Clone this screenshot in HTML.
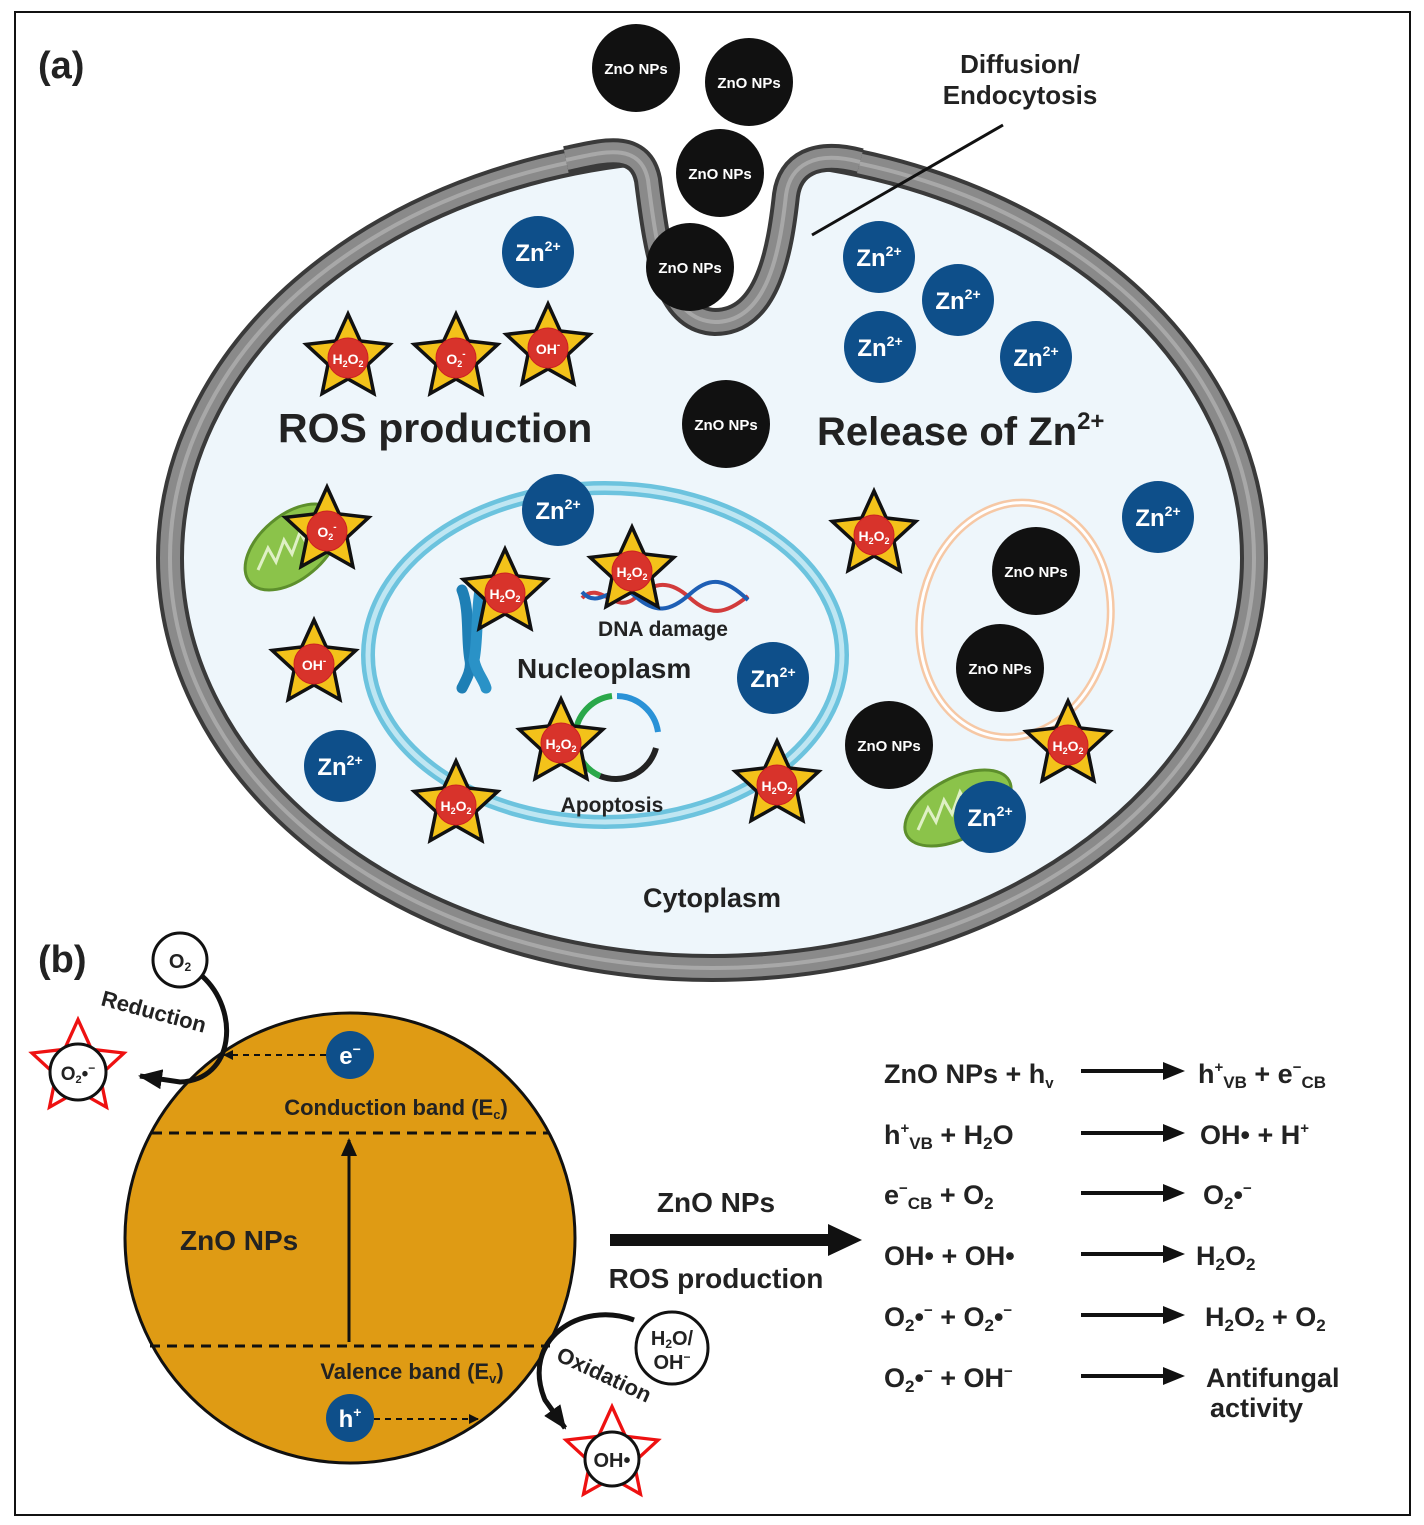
<!DOCTYPE html>
<html><head><meta charset="utf-8"><style>
html,body{margin:0;padding:0;background:#fff}
svg{display:block}
text{font-family:"Liberation Sans",sans-serif}
</style></head><body>
<svg width="1424" height="1525" viewBox="0 0 1424 1525" xmlns="http://www.w3.org/2000/svg">
<defs>
<path id="st" d="M0,-44 L12.3,-17 L41.8,-13.6 L20,6.5 L25.9,35.6 L0,21 L-25.9,35.6 L-20,6.5 L-41.8,-13.6 L-12.3,-17 Z"/>
<path id="u" d="M566,160 C600,153 640,140 648,180 C658,260 668,320 715,322 C768,322 780,250 786,195 C790,165 815,150 860,162"/>
<g id="ys"><use href="#st" fill="#f3c21a" stroke="#111" stroke-width="3.5"/><circle r="20" fill="#d8332b" stroke="#c22" stroke-width="1"/></g>
<marker id="ah" markerWidth="10" markerHeight="10" refX="9" refY="5" orient="auto" markerUnits="userSpaceOnUse"><path d="M0,0 L10,5 L0,10 Z" fill="#111"/></marker>
<marker id="ahb" markerWidth="24" markerHeight="20" refX="22" refY="10" orient="auto" markerUnits="userSpaceOnUse"><path d="M0,0 L24,10 L0,20 Z" fill="#111"/></marker>
<marker id="ahm" markerWidth="18" markerHeight="16" refX="16" refY="8" orient="auto" markerUnits="userSpaceOnUse"><path d="M0,0 L18,8 L0,16 Z" fill="#111"/></marker>
</defs>
<rect x="15" y="12" width="1395" height="1503" fill="#fff" stroke="#111" stroke-width="2"/>

<!-- cell -->
<ellipse cx="712" cy="558" rx="542" ry="410" fill="#eef6fb"/>
<ellipse cx="712" cy="558" rx="542" ry="410" fill="none" stroke="#3a3a3a" stroke-width="28"/>
<ellipse cx="712" cy="558" rx="542" ry="410" fill="none" stroke="#8a8a8a" stroke-width="20"/>
<ellipse cx="712" cy="558" rx="542" ry="410" fill="none" stroke="#a8a8a8" stroke-width="4"/>
<!-- invagination cut -->
<path d="M598,100 L598,156 C625,150 640,145 648,180 C658,260 668,320 715,322 C768,322 780,250 786,195 C790,165 810,154 838,158 L838,100 Z" fill="#fff"/>
<use href="#u" fill="none" stroke="#3a3a3a" stroke-width="28"/>
<use href="#u" fill="none" stroke="#8a8a8a" stroke-width="20"/>
<use href="#u" fill="none" stroke="#a8a8a8" stroke-width="4"/>

<!-- nucleus -->
<ellipse cx="605" cy="655" rx="237" ry="167" fill="none" stroke="#6cc3de" stroke-width="14"/>
<ellipse cx="605" cy="655" rx="237" ry="167" fill="none" stroke="#bfe6f2" stroke-width="5"/>
<!-- vesicle -->
<ellipse cx="1015" cy="620" rx="95" ry="118" transform="rotate(10 1015 620)" fill="none" stroke="#f6c8a5" stroke-width="8"/>
<ellipse cx="1015" cy="620" rx="95" ry="118" transform="rotate(10 1015 620)" fill="none" stroke="#fff" stroke-width="3"/>

<!-- mitochondria -->
<ellipse cx="292" cy="547" rx="55" ry="32" transform="rotate(-40 292 547)" fill="#8bc34a" stroke="#5d8f2c" stroke-width="3"/>
<path d="M258,570 l10,-22 l8,14 l8,-22 l8,14 l8,-22 l8,14" fill="none" stroke="#dff0c5" stroke-width="3"/>
<ellipse cx="958" cy="808" rx="58" ry="30" transform="rotate(-28 958 808)" fill="#8bc34a" stroke="#5d8f2c" stroke-width="3"/>
<path d="M918,830 l10,-22 l8,14 l8,-22 l8,14 l8,-22 l8,14" fill="none" stroke="#dff0c5" stroke-width="3"/>

<!-- chromosome -->
<path d="M462,590 C470,610 466,640 470,660 C472,670 466,680 462,688" fill="none" stroke="#1e7fb5" stroke-width="11" stroke-linecap="round"/>
<path d="M480,590 C476,615 478,640 474,660 C476,672 484,680 486,688" fill="none" stroke="#2a92c7" stroke-width="11" stroke-linecap="round"/>
<!-- DNA -->
<path d="M582,598 C600,580 615,615 635,598 S670,580 690,598 S725,615 748,596" fill="none" stroke="#d23b3b" stroke-width="4"/>
<path d="M582,592 C600,612 615,578 635,596 S670,612 690,594 S725,578 748,600" fill="none" stroke="#1e5fb5" stroke-width="4"/>
<!-- apoptosis ring -->
<path d="M617,696 A42,42 0 0 1 658,732" fill="none" stroke="#2a92d7" stroke-width="6"/>
<path d="M656,748 A42,42 0 0 1 600,776" fill="none" stroke="#222" stroke-width="6"/>
<path d="M600,776 A42,42 0 0 1 612,696" fill="none" stroke="#2aa84a" stroke-width="6"/>

<!-- Black NPs -->
<g fill="#111"><circle cx="636" cy="68" r="44"/><circle cx="749" cy="82" r="44"/><circle cx="720" cy="173" r="44"/><circle cx="690" cy="267" r="44"/><circle cx="726" cy="424" r="44"/><circle cx="1036" cy="571" r="44"/><circle cx="1000" cy="668" r="44"/><circle cx="889" cy="745" r="44"/></g>
<g fill="#fff" font-size="15" font-weight="bold" text-anchor="middle">
<text x="636" y="74">ZnO NPs</text><text x="749" y="88">ZnO NPs</text><text x="720" y="179">ZnO NPs</text><text x="690" y="273">ZnO NPs</text><text x="726" y="430">ZnO NPs</text><text x="1036" y="577">ZnO NPs</text><text x="1000" y="674">ZnO NPs</text><text x="889" y="751">ZnO NPs</text></g>

<!-- Zn2+ -->
<g fill="#0e4f8a"><circle cx="538" cy="252" r="36"/><circle cx="879" cy="257" r="36"/><circle cx="958" cy="300" r="36"/><circle cx="880" cy="347" r="36"/><circle cx="1036" cy="357" r="36"/><circle cx="558" cy="510" r="36"/><circle cx="1158" cy="517" r="36"/><circle cx="773" cy="678" r="36"/><circle cx="340" cy="766" r="36"/><circle cx="990" cy="817" r="36"/></g>
<g fill="#fff" font-size="24" font-weight="bold" text-anchor="middle">
<text x="538" y="261">Zn<tspan font-size="14" dy="-10">2+</tspan></text>
<text x="879" y="266">Zn<tspan font-size="14" dy="-10">2+</tspan></text>
<text x="958" y="309">Zn<tspan font-size="14" dy="-10">2+</tspan></text>
<text x="880" y="356">Zn<tspan font-size="14" dy="-10">2+</tspan></text>
<text x="1036" y="366">Zn<tspan font-size="14" dy="-10">2+</tspan></text>
<text x="558" y="519">Zn<tspan font-size="14" dy="-10">2+</tspan></text>
<text x="1158" y="526">Zn<tspan font-size="14" dy="-10">2+</tspan></text>
<text x="773" y="687">Zn<tspan font-size="14" dy="-10">2+</tspan></text>
<text x="340" y="775">Zn<tspan font-size="14" dy="-10">2+</tspan></text>
<text x="990" y="826">Zn<tspan font-size="14" dy="-10">2+</tspan></text></g>

<!-- stars -->
<use href="#ys" x="348" y="358"/><use href="#ys" x="456" y="358"/><use href="#ys" x="548" y="348"/>
<use href="#ys" x="327" y="531"/><use href="#ys" x="314" y="664"/><use href="#ys" x="505" y="593"/>
<use href="#ys" x="632" y="571"/><use href="#ys" x="874" y="535"/><use href="#ys" x="561" y="743"/>
<use href="#ys" x="456" y="805"/><use href="#ys" x="777" y="785"/><use href="#ys" x="1068" y="745"/>
<g fill="#fff" font-size="14" font-weight="bold" text-anchor="middle">
<text x="348" y="364">H<tspan font-size="9" dy="3">2</tspan><tspan dy="-3">O</tspan><tspan font-size="9" dy="3">2</tspan></text>
<text x="456" y="364">O<tspan font-size="9" dy="3">2</tspan><tspan font-size="10" dy="-10">-</tspan></text>
<text x="548" y="354">OH<tspan font-size="10" dy="-6">-</tspan></text>
<text x="327" y="537">O<tspan font-size="9" dy="3">2</tspan><tspan font-size="10" dy="-10">-</tspan></text>
<text x="314" y="670">OH<tspan font-size="10" dy="-6">-</tspan></text>
<text x="505" y="599">H<tspan font-size="9" dy="3">2</tspan><tspan dy="-3">O</tspan><tspan font-size="9" dy="3">2</tspan></text>
<text x="632" y="577">H<tspan font-size="9" dy="3">2</tspan><tspan dy="-3">O</tspan><tspan font-size="9" dy="3">2</tspan></text>
<text x="874" y="541">H<tspan font-size="9" dy="3">2</tspan><tspan dy="-3">O</tspan><tspan font-size="9" dy="3">2</tspan></text>
<text x="561" y="749">H<tspan font-size="9" dy="3">2</tspan><tspan dy="-3">O</tspan><tspan font-size="9" dy="3">2</tspan></text>
<text x="456" y="811">H<tspan font-size="9" dy="3">2</tspan><tspan dy="-3">O</tspan><tspan font-size="9" dy="3">2</tspan></text>
<text x="777" y="791">H<tspan font-size="9" dy="3">2</tspan><tspan dy="-3">O</tspan><tspan font-size="9" dy="3">2</tspan></text>
<text x="1068" y="751">H<tspan font-size="9" dy="3">2</tspan><tspan dy="-3">O</tspan><tspan font-size="9" dy="3">2</tspan></text></g>

<!-- labels a -->
<text x="38" y="78" font-size="38" font-weight="bold" fill="#222">(a)</text>
<g fill="#222" font-weight="bold">
<text x="278" y="442" font-size="41">ROS production</text>
<text x="817" y="445" font-size="40">Release of Zn<tspan font-size="24" dy="-16">2+</tspan></text>
<text x="517" y="678" font-size="28">Nucleoplasm</text>
<text x="663" y="636" font-size="21" text-anchor="middle">DNA damage</text>
<text x="612" y="812" font-size="21" text-anchor="middle">Apoptosis</text>
<text x="712" y="907" font-size="27" text-anchor="middle">Cytoplasm</text>
<text x="1020" y="73" font-size="26" text-anchor="middle">Diffusion/</text>
<text x="1020" y="104" font-size="26" text-anchor="middle">Endocytosis</text>
</g>
<line x1="1003" y1="125" x2="812" y2="235" stroke="#111" stroke-width="3"/>

<!-- part b -->
<text x="38" y="972" font-size="38" font-weight="bold" fill="#222">(b)</text>
<circle cx="350" cy="1238" r="225" fill="#df9b14" stroke="#111" stroke-width="3"/>
<line x1="152" y1="1133" x2="548" y2="1133" stroke="#111" stroke-width="3" stroke-dasharray="10,7"/>
<line x1="150" y1="1346" x2="550" y2="1346" stroke="#111" stroke-width="3" stroke-dasharray="10,7"/>
<line x1="349" y1="1342" x2="349" y2="1140" stroke="#111" stroke-width="3" marker-end="url(#ahm)"/>
<g fill="#222" font-weight="bold">
<text x="180" y="1250" font-size="28">ZnO NPs</text>
<text x="396" y="1115" font-size="22" text-anchor="middle">Conduction band (E<tspan font-size="13" dy="4">c</tspan><tspan dy="-4">)</tspan></text>
<text x="412" y="1379" font-size="22" text-anchor="middle">Valence band (E<tspan font-size="13" dy="4">v</tspan><tspan dy="-4">)</tspan></text>
</g>
<line x1="326" y1="1055" x2="224" y2="1055" stroke="#111" stroke-width="2" stroke-dasharray="6,5" marker-end="url(#ah)"/>
<circle cx="350" cy="1055" r="24" fill="#0e4f8a"/>
<text x="350" y="1064" fill="#fff" font-size="24" font-weight="bold" text-anchor="middle">e<tspan font-size="14" dy="-10">−</tspan></text>
<line x1="374" y1="1419" x2="478" y2="1419" stroke="#111" stroke-width="2" stroke-dasharray="6,5" marker-end="url(#ah)"/>
<circle cx="350" cy="1418" r="24" fill="#0e4f8a"/>
<text x="350" y="1427" fill="#fff" font-size="24" font-weight="bold" text-anchor="middle">h<tspan font-size="14" dy="-10">+</tspan></text>

<!-- reduction -->
<circle cx="180" cy="960" r="27" fill="#fff" stroke="#111" stroke-width="3"/>
<text x="180" y="968" font-size="20" font-weight="bold" text-anchor="middle" fill="#222">O<tspan font-size="12" dy="3">2</tspan></text>
<path d="M202,976 C240,1010 235,1080 180,1082 L140,1076" fill="none" stroke="#111" stroke-width="5" marker-end="url(#ahb)"/>
<text x="100" y="1005" font-size="22" font-weight="bold" fill="#222" transform="rotate(15 100 1005)">Reduction</text>
<use href="#st" transform="translate(78,1068) scale(1.1)" fill="#fff" stroke="#e11" stroke-width="3"/>
<circle cx="78" cy="1072" r="28" fill="#fff" stroke="#111" stroke-width="3"/>
<text x="78" y="1080" font-size="19" font-weight="bold" text-anchor="middle" fill="#222">O<tspan font-size="11" dy="3">2</tspan><tspan dy="-3">•</tspan><tspan font-size="12" dy="-8">−</tspan></text>

<!-- oxidation -->
<circle cx="672" cy="1348" r="36" fill="#fff" stroke="#111" stroke-width="3"/>
<text x="672" y="1345" font-size="20" font-weight="bold" text-anchor="middle" fill="#222">H<tspan font-size="12" dy="3">2</tspan><tspan dy="-3">O/</tspan></text>
<text x="672" y="1369" font-size="20" font-weight="bold" text-anchor="middle" fill="#222">OH<tspan font-size="12" dy="-8">−</tspan></text>
<path d="M634,1320 C580,1300 520,1340 545,1400 L565,1428" fill="none" stroke="#111" stroke-width="5" marker-end="url(#ahb)"/>
<text x="555" y="1360" font-size="22" font-weight="bold" fill="#222" transform="rotate(25 555 1360)">Oxidation</text>
<use href="#st" transform="translate(612,1455) scale(1.1)" fill="#fff" stroke="#e11" stroke-width="3"/>
<circle cx="612" cy="1459" r="27" fill="#fff" stroke="#111" stroke-width="3"/>
<text x="612" y="1467" font-size="20" font-weight="bold" text-anchor="middle" fill="#222">OH•</text>

<!-- big arrow -->
<line x1="610" y1="1240" x2="832" y2="1240" stroke="#111" stroke-width="12"/>
<path d="M828,1224 L862,1240 L828,1256 Z" fill="#111"/>
<g fill="#222" font-weight="bold" text-anchor="middle" font-size="28">
<text x="716" y="1212">ZnO NPs</text>
<text x="716" y="1288">ROS production</text>
</g>

<!-- equations -->
<g fill="#222" font-size="27" font-weight="bold">
<text x="884" y="1083">ZnO NPs + h<tspan font-size="15" dy="5">v</tspan></text>
<text x="1198" y="1083">h<tspan font-size="15" dy="-11">+</tspan><tspan font-size="17" dy="16">VB</tspan><tspan dy="-5"> + e</tspan><tspan font-size="15" dy="-11">−</tspan><tspan font-size="17" dy="16">CB</tspan></text>
<text x="884" y="1144">h<tspan font-size="15" dy="-11">+</tspan><tspan font-size="17" dy="16">VB</tspan><tspan dy="-5"> + H</tspan><tspan font-size="17" dy="5">2</tspan><tspan dy="-5">O</tspan></text>
<text x="1200" y="1144">OH• + H<tspan font-size="15" dy="-11">+</tspan></text>
<text x="884" y="1204">e<tspan font-size="15" dy="-11">−</tspan><tspan font-size="17" dy="16">CB</tspan><tspan dy="-5"> + O</tspan><tspan font-size="17" dy="5">2</tspan></text>
<text x="1203" y="1204">O<tspan font-size="17" dy="5">2</tspan><tspan dy="-5">•</tspan><tspan font-size="15" dy="-11">−</tspan></text>
<text x="884" y="1265">OH• + OH•</text>
<text x="1196" y="1265">H<tspan font-size="17" dy="5">2</tspan><tspan dy="-5">O</tspan><tspan font-size="17" dy="5">2</tspan></text>
<text x="884" y="1326">O<tspan font-size="17" dy="5">2</tspan><tspan dy="-5">•</tspan><tspan font-size="15" dy="-11">−</tspan><tspan dy="11"> + O</tspan><tspan font-size="17" dy="5">2</tspan><tspan dy="-5">•</tspan><tspan font-size="15" dy="-11">−</tspan></text>
<text x="1205" y="1326">H<tspan font-size="17" dy="5">2</tspan><tspan dy="-5">O</tspan><tspan font-size="17" dy="5">2</tspan><tspan dy="-5"> + O</tspan><tspan font-size="17" dy="5">2</tspan></text>
<text x="884" y="1387">O<tspan font-size="17" dy="5">2</tspan><tspan dy="-5">•</tspan><tspan font-size="15" dy="-11">−</tspan><tspan dy="11"> + OH</tspan><tspan font-size="15" dy="-11">−</tspan></text>
<text x="1206" y="1387">Antifungal</text>
<text x="1210" y="1417">activity</text>
</g>
<g stroke="#111" stroke-width="4">
<line x1="1081" y1="1071" x2="1165" y2="1071"/><line x1="1081" y1="1133" x2="1165" y2="1133"/>
<line x1="1081" y1="1193" x2="1165" y2="1193"/><line x1="1081" y1="1254" x2="1165" y2="1254"/>
<line x1="1081" y1="1315" x2="1165" y2="1315"/><line x1="1081" y1="1376" x2="1165" y2="1376"/>
</g>
<g fill="#111">
<path d="M1163,1062 L1185,1071 L1163,1080Z"/><path d="M1163,1124 L1185,1133 L1163,1142Z"/>
<path d="M1163,1184 L1185,1193 L1163,1202Z"/><path d="M1163,1245 L1185,1254 L1163,1263Z"/>
<path d="M1163,1306 L1185,1315 L1163,1324Z"/><path d="M1163,1367 L1185,1376 L1163,1385Z"/>
</g>
</svg>
</body></html>
